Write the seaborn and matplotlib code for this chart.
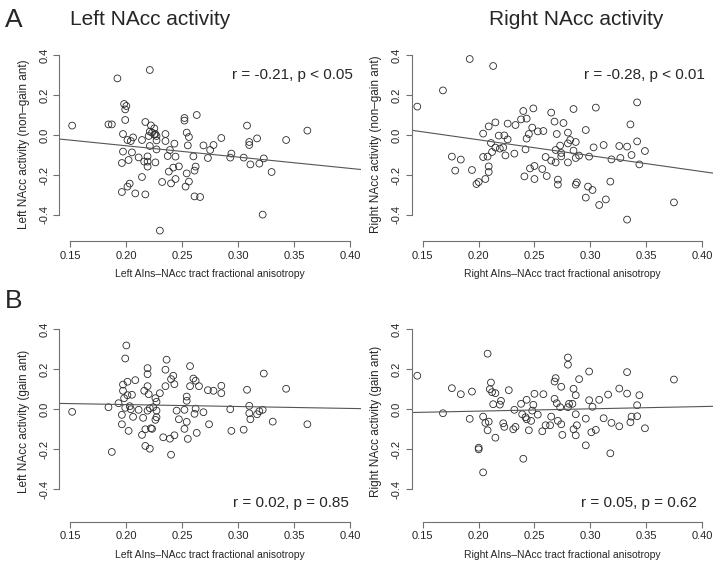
import numpy as np
import pandas as pd
import seaborn as sns
import matplotlib.pyplot as plt

sns.set_style('white')
plt.rcParams['font.family'] = ['Liberation Sans', 'DejaVu Sans']

# --- A: non-gain anticipation ---
left_fa_a = [0.1515, 0.192, 0.221, 0.184, 0.187, 0.198, 0.200, 0.199, 0.199, 0.217,
             0.222, 0.225, 0.221, 0.226, 0.227, 0.223, 0.220, 0.227, 0.214, 0.206,
             0.201, 0.204, 0.197, 0.221, 0.227, 0.197, 0.205, 0.196, 0.202, 0.211,
             0.219, 0.216, 0.219, 0.219, 0.226, 0.214, 0.203, 0.201, 0.196, 0.208,
             0.217, 0.230, 0.235, 0.235, 0.243, 0.239, 0.237, 0.244, 0.242, 0.238,
             0.247, 0.244, 0.232, 0.240, 0.252, 0.252, 0.254, 0.256, 0.255, 0.260,
             0.262, 0.261, 0.254, 0.256, 0.253, 0.261, 0.266, 0.263, 0.269, 0.275,
             0.278, 0.273, 0.285, 0.294, 0.293, 0.305, 0.308, 0.310, 0.310, 0.317,
             0.311, 0.319, 0.323, 0.330, 0.322, 0.343, 0.362, 0.225]
left_nongain = [0.047, 0.283, 0.325, 0.053, 0.053, 0.155, 0.145, 0.128, 0.075, 0.065,
                0.048, 0.033, 0.017, 0.005, -0.005, 0.012, -0.005, -0.027, -0.025, -0.012,
                -0.025, -0.030, 0.005, -0.055, -0.072, -0.083, -0.087, -0.140, -0.125, -0.112,
                -0.107, -0.133, -0.133, -0.158, -0.137, -0.210, -0.243, -0.258, -0.285, -0.292,
                -0.297, -0.478, 0.005, -0.030, -0.043, -0.075, -0.105, -0.108, -0.163, -0.183,
                -0.157, -0.220, -0.235, -0.242, 0.085, 0.072, 0.012, -0.010, -0.052, -0.107,
                -0.158, -0.178, -0.192, -0.233, -0.258, -0.307, -0.310, 0.100, -0.052, -0.075,
                -0.050, -0.115, -0.015, -0.093, -0.113, -0.113, 0.047, -0.035, -0.050, -0.017,
                -0.147, -0.143, -0.117, -0.185, -0.398, -0.025, 0.022, 0.002]

right_fa_a = [0.192, 0.213, 0.168, 0.145, 0.176, 0.184, 0.179, 0.194, 0.198, 0.200,
              0.206, 0.209, 0.209, 0.204, 0.208, 0.212, 0.211, 0.209, 0.215, 0.204,
              0.218, 0.223, 0.226, 0.215, 0.219, 0.222, 0.224, 0.226, 0.232, 0.233,
              0.238, 0.240, 0.243, 0.249, 0.248, 0.245, 0.243, 0.242, 0.253, 0.258,
              0.250, 0.246, 0.241, 0.250, 0.257, 0.261, 0.260, 0.265, 0.268, 0.270,
              0.269, 0.265, 0.269, 0.273, 0.274, 0.274, 0.276, 0.280, 0.280, 0.282,
              0.285, 0.287, 0.280, 0.285, 0.287, 0.290, 0.271, 0.271, 0.287, 0.288,
              0.296, 0.299, 0.303, 0.305, 0.298, 0.302, 0.296, 0.308, 0.314, 0.312,
              0.319, 0.318, 0.326, 0.327, 0.333, 0.336, 0.337, 0.342, 0.342, 0.344,
              0.349, 0.333, 0.375]
right_nongain = [0.380, 0.345, 0.223, 0.142, -0.108, -0.123, -0.178, -0.175, -0.245, -0.235,
                 -0.220, -0.185, -0.157, -0.110, -0.108, -0.085, -0.040, 0.043, 0.063, 0.007,
                 -0.003, -0.002, -0.022, -0.063, -0.068, -0.062, -0.102, 0.057, -0.093, 0.050,
                 0.078, 0.120, 0.082, 0.133, 0.037, 0.005, -0.018, -0.072, 0.018, 0.020,
                 -0.155, -0.167, -0.207, -0.220, -0.170, -0.205, -0.110, 0.112, 0.067, 0.005,
                 -0.075, -0.128, -0.137, -0.053, -0.090, -0.107, 0.060, 0.012, -0.042, -0.025,
                 -0.078, -0.035, -0.137, 0.130, -0.115, -0.103, -0.223, -0.248, -0.248, -0.237,
                 0.025, -0.108, -0.062, 0.137, -0.258, -0.275, -0.313, -0.350, -0.322, -0.050,
                 -0.122, -0.233, -0.055, -0.115, -0.058, 0.053, -0.100, 0.163, -0.032, -0.147,
                 -0.080, -0.423, -0.337]

# --- B: gain anticipation ---
left_fa_b = [0.1515, 0.184, 0.187, 0.193, 0.196, 0.196, 0.197, 0.197, 0.198, 0.199,
             0.200, 0.199, 0.201, 0.201, 0.203, 0.204, 0.205, 0.206, 0.202, 0.208,
             0.211, 0.215, 0.214, 0.216, 0.219, 0.219, 0.219, 0.220, 0.219, 0.221,
             0.217, 0.222, 0.223, 0.217, 0.221, 0.224, 0.226, 0.227, 0.227, 0.227,
             0.226, 0.230, 0.233, 0.235, 0.236, 0.235, 0.240, 0.242, 0.243, 0.239,
             0.243, 0.240, 0.245, 0.247, 0.252, 0.254, 0.254, 0.254, 0.252, 0.255,
             0.257, 0.257, 0.260, 0.262, 0.265, 0.262, 0.261, 0.263, 0.269, 0.273,
             0.278, 0.274, 0.285, 0.285, 0.293, 0.294, 0.305, 0.308, 0.310, 0.310,
             0.311, 0.317, 0.319, 0.322, 0.323, 0.331, 0.343, 0.362]
left_gain = [-0.013, 0.010, -0.213, 0.030, -0.028, -0.075, 0.123, 0.092, 0.055, 0.007,
             0.318, 0.253, 0.137, 0.070, 0.015, 0.000, 0.072, -0.038, -0.108, 0.145,
             -0.003, -0.043, -0.128, 0.092, 0.205, 0.175, 0.115, 0.075, -0.007, 0.005,
             -0.100, -0.095, -0.098, -0.183, -0.197, 0.010, 0.055, 0.037, -0.007, -0.040,
             -0.053, 0.080, -0.140, 0.197, 0.247, 0.115, 0.150, 0.167, 0.125, -0.147,
             -0.130, -0.227, -0.007, -0.050, -0.003, 0.042, 0.063, -0.063, -0.098, -0.148,
             0.215, 0.115, 0.153, 0.142, 0.115, 0.003, -0.023, -0.118, -0.015, 0.095,
             0.092, -0.075, 0.117, 0.080, 0.000, -0.108, -0.102, 0.097, 0.017, -0.020,
             -0.050, -0.025, -0.010, -0.003, 0.178, -0.062, 0.102, -0.075]

right_fa_b = [0.145, 0.168, 0.176, 0.184, 0.194, 0.192, 0.200, 0.200, 0.204, 0.204,
              0.206, 0.208, 0.209, 0.208, 0.210, 0.211, 0.212, 0.215, 0.213, 0.215,
              0.220, 0.219, 0.222, 0.223, 0.227, 0.232, 0.231, 0.233, 0.238, 0.239,
              0.242, 0.243, 0.243, 0.250, 0.249, 0.248, 0.247, 0.245, 0.253, 0.240,
              0.258, 0.257, 0.260, 0.264, 0.265, 0.268, 0.269, 0.268, 0.270, 0.271,
              0.273, 0.274, 0.274, 0.275, 0.280, 0.281, 0.280, 0.280, 0.284, 0.285,
              0.287, 0.287, 0.285, 0.287, 0.288, 0.290, 0.296, 0.296, 0.299, 0.299,
              0.302, 0.301, 0.305, 0.308, 0.312, 0.316, 0.318, 0.319, 0.326, 0.326,
              0.333, 0.333, 0.336, 0.337, 0.342, 0.342, 0.344, 0.349, 0.375]
right_gain = [0.167, -0.020, 0.105, 0.075, 0.088, -0.048, -0.192, -0.200, -0.315, -0.037,
              -0.068, -0.105, -0.062, 0.277, 0.100, 0.133, 0.085, 0.080, 0.025, -0.142,
              0.042, 0.023, -0.070, -0.088, 0.095, -0.003, -0.100, -0.088, 0.027, -0.025,
              -0.040, 0.047, -0.050, 0.077, 0.022, -0.007, -0.058, -0.105, -0.027, -0.247,
              0.075, -0.110, -0.080, -0.080, -0.037, 0.138, 0.155, 0.052, 0.030, -0.058,
              0.010, 0.112, -0.075, -0.128, 0.010, 0.027, 0.258, 0.222, 0.027, 0.102,
              0.070, -0.025, -0.100, -0.130, -0.080, 0.150, -0.047, -0.180, 0.188, 0.045,
              0.012, -0.115, -0.103, 0.047, -0.045, 0.073, -0.220, -0.068, 0.103, -0.085,
              0.185, 0.078, -0.065, -0.037, 0.020, -0.035, 0.070, -0.095, 0.148]

x_ticks = [0.15, 0.20, 0.25, 0.30, 0.35, 0.40]
y_ticks = [-0.4, -0.2, 0.0, 0.2, 0.4]

panels = [
    (left_fa_a, left_nongain, 'Left AIns\u2013NAcc tract fractional anisotropy',
     'Left NAcc activity (non\u2013gain ant)', 'r = -0.21, p < 0.05'),
    (right_fa_a, right_nongain, 'Right AIns\u2013NAcc tract fractional anisotropy',
     'Right NAcc activity (non\u2013gain ant)', 'r = -0.28, p < 0.01'),
    (left_fa_b, left_gain, 'Left AIns\u2013NAcc tract fractional anisotropy',
     'Left NAcc activity (gain ant)', 'r = 0.02, p = 0.85'),
    (right_fa_b, right_gain, 'Right AIns\u2013NAcc tract fractional anisotropy',
     'Right NAcc activity (gain ant)', 'r = 0.05, p = 0.62'),
]

W, H = 716, 563
fig = plt.figure(figsize=(W / 100, H / 100), dpi=100)

# axes boxes in pixels: left, right, top, bottom
boxes = [(59.3, 361, 47, 241), (411.7, 713, 47, 241),
         (59.3, 361, 321, 521.5), (411.7, 713, 321, 521.5)]
ylims = [(-0.53, 0.44), (-0.53, 0.44), (-0.56, 0.44), (-0.56, 0.44)]
stat_pos = [(0.973, 0.857), (0.973, 0.857), (0.96, 0.093), (0.946, 0.093)]

axis_col = '#707070'
for i, (xs, ys, xl, yl, stat) in enumerate(panels):
    l, r, t, b = boxes[i]
    ax = fig.add_axes([l / W, (H - b) / H, (r - l) / W, (b - t) / H])
    df = pd.DataFrame({'fa': xs, 'act': ys})
    ax.set_xlim(0.14, 0.41)
    ax.set_ylim(*ylims[i])
    sns.scatterplot(data=df, x='fa', y='act', ax=ax, s=24, facecolor='none',
                    edgecolor='#2a2a2a', linewidth=0.6)
    sns.regplot(data=df, x='fa', y='act', ax=ax, scatter=False, ci=None,
                truncate=False, line_kws={'color': '#555555', 'lw': 0.8})
    ax.set_xlim(0.14, 0.41)
    ax.set_ylim(*ylims[i])
    ax.set_xticks(x_ticks)
    ax.set_xticklabels(['%.2f' % v for v in x_ticks])
    ax.set_yticks(y_ticks)
    ax.set_yticklabels(['%.1f' % v for v in y_ticks], rotation=90, va='center')
    ax.tick_params(axis='both', length=4, width=0.8, color=axis_col,
                   labelsize=8, pad=3, direction='out', bottom=True, left=True)
    for sp in ax.spines.values():
        sp.set_color(axis_col)
        sp.set_linewidth(0.8)
    sns.despine(ax=ax, trim=True)
    ax.set_xlabel(xl, fontsize=7.5, labelpad=6)
    ax.set_ylabel(yl, fontsize=8.5, labelpad=7)
    ax.text(stat_pos[i][0], stat_pos[i][1], stat, transform=ax.transAxes,
            ha='right', va='center', fontsize=11)

fig.text(150 / W, (H - 25) / H, 'Left NAcc activity', ha='center', va='baseline', fontsize=15)
fig.text(576 / W, (H - 25) / H, 'Right NAcc activity', ha='center', va='baseline', fontsize=15)
fig.text(5 / W, (H - 27) / H, 'A', ha='left', va='baseline', fontsize=19)
fig.text(5 / W, (H - 308) / H, 'B', ha='left', va='baseline', fontsize=19)

fig.savefig('out.png', dpi=100)
